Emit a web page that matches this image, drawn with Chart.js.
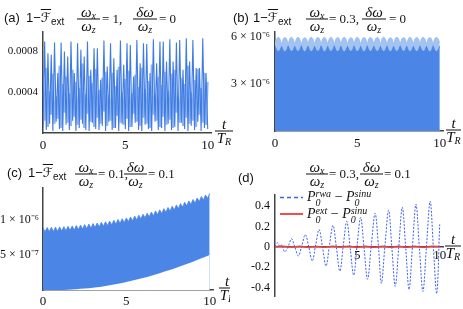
<!DOCTYPE html>
<html>
<head>
<meta charset="utf-8">
<title>Infidelity panels</title>
<script src="https://cdn.jsdelivr.net/npm/chart.js@4.4.1/dist/chart.umd.min.js"></script>
<style>
  html, body { margin: 0; background: #fff; }
  #fig { position: relative; width: 463px; height: 309px; overflow: hidden; color: #111; font-family: "Liberation Serif", serif; }
  canvas { position: absolute; }
  .lb { position: absolute; white-space: nowrap; font-size: 13px; line-height: 14px; transform: translateY(-50%); }
  .sans { font-family: "Liberation Sans", "DejaVu Sans", sans-serif; }
  .ov { text-decoration: overline; font-family: "DejaVu Sans", sans-serif; }
  .lb sub { font-size: 10px; vertical-align: -3px; line-height: 0; }
  .fr { position: absolute; display: flex; flex-direction: column; text-align: center; font-size: 15px; line-height: 11px; transform: translateY(-50%); white-space: nowrap; }
  .fr > span:first-child { border-bottom: 1px solid #111; padding-bottom: 1px; }
  .fr > span:last-child { padding-top: 1px; }
  .fr sub { font-size: 10px; font-style: italic; vertical-align: -2px; line-height: 0; }
  .lg { position: absolute; white-space: nowrap; font-size: 14px; line-height: 14px; transform: translateY(-50%); }
  .st { display: inline-flex; flex-direction: column; vertical-align: middle; font-size: 10px; line-height: 9px; font-style: italic; }
  svg.key { position: absolute; }
</style>
</head>
<body>
<div id="fig">
  <canvas id="cA" width="231" height="155" style="left:0;top:0"></canvas>
  <canvas id="cB" width="243" height="155" style="left:220px;top:0"></canvas>
  <canvas id="cC" width="231" height="154" style="left:0;top:155px"></canvas>
  <canvas id="cD" width="243" height="154" style="left:220px;top:155px"></canvas>

  <!-- (a) -->
  <div class="lb sans" style="left:4px;top:18px">(a)</div>
  <div class="lb sans" style="left:26px;top:18px">1−<span class="ov">ℱ</span><sub>ext</sub></div>
  <div class="fr" style="left:77px;top:19px;width:23px"><span><i>ω</i><sub>x</sub></span><span><i>ω</i><sub>z</sub></span></div>
  <div class="lb" style="left:102px;top:19px">= 1,</div>
  <div class="fr" style="left:133px;top:19px;width:24px"><span><i>δω</i></span><span><i>ω</i><sub>z</sub></span></div>
  <div class="lb" style="left:159px;top:19px">= 0</div>
  <div class="fr" style="left:215px;top:131px;width:18px"><span><i>t</i></span><span><i>T</i><sub>R</sub></span></div>

  <!-- (b) -->
  <div class="lb sans" style="left:233px;top:18px">(b)</div>
  <div class="lb sans" style="left:253px;top:18px">1−<span class="ov">ℱ</span><sub>ext</sub></div>
  <div class="fr" style="left:306px;top:19px;width:22px"><span><i>ω</i><sub>x</sub></span><span><i>ω</i><sub>z</sub></span></div>
  <div class="lb" style="left:329px;top:19px">= 0.3,</div>
  <div class="fr" style="left:362px;top:19px;width:24px"><span><i>δω</i></span><span><i>ω</i><sub>z</sub></span></div>
  <div class="lb" style="left:389px;top:19px">= 0</div>
  <div class="fr" style="left:446px;top:130px;width:15px"><span><i>t</i></span><span><i>T</i><sub>R</sub></span></div>

  <!-- (c) -->
  <div class="lb sans" style="left:7px;top:173px">(c)</div>
  <div class="lb sans" style="left:28px;top:173px">1−<span class="ov">ℱ</span><sub>ext</sub></div>
  <div class="fr" style="left:75px;top:174px;width:22px"><span><i>ω</i><sub>x</sub></span><span><i>ω</i><sub>z</sub></span></div>
  <div class="lb" style="left:98px;top:174px">= 0.1,</div>
  <div class="fr" style="left:124px;top:174px;width:23px"><span><i>δω</i></span><span><i>ω</i><sub>z</sub></span></div>
  <div class="lb" style="left:148px;top:174px">= 0.1</div>
  <div style="position:absolute;left:0;top:0;width:230px;height:309px;overflow:hidden">
    <div class="fr" style="left:219px;top:288px;width:16px"><span><i>t</i></span><span><i>T</i><sub>R</sub></span></div>
  </div>

  <!-- (d) -->
  <div class="lb sans" style="left:238px;top:178px">(d)</div>
  <div class="fr" style="left:306px;top:174px;width:22px"><span><i>ω</i><sub>x</sub></span><span><i>ω</i><sub>z</sub></span></div>
  <div class="lb" style="left:329px;top:174px">= 0.3,</div>
  <div class="fr" style="left:360px;top:174px;width:23px"><span><i>δω</i></span><span><i>ω</i><sub>z</sub></span></div>
  <div class="lb" style="left:384px;top:174px">= 0.1</div>
  <div class="fr" style="left:445px;top:246px;width:16px"><span><i>t</i></span><span><i>T</i><sub>R</sub></span></div>

  <svg class="key" style="left:279px;top:193px" width="26" height="26">
    <line x1="1" y1="4.5" x2="24" y2="4.5" stroke="#3d5ff2" stroke-width="1.6" stroke-dasharray="4 3"/>
    <line x1="1" y1="21" x2="24" y2="21" stroke="#f03c3c" stroke-width="1.8"/>
  </svg>
  <div class="lg" style="left:307px;top:198px"><i>P</i><span class="st"><span>rwa</span><span>0</span></span> − <i>P</i><span class="st"><span>sinu</span><span>0</span></span></div>
  <div class="lg" style="left:307px;top:215px"><i>P</i><span class="st"><span>ext</span><span>0</span></span> − <i>P</i><span class="st"><span>sinu</span><span>0</span></span></div>
</div>

<script>
// ---- shared ticks ----
const xTicks = [0, 5, 10];
const xTicksD = [5, 10];

// ---- (a) omega_x/omega_z = 1, values in units of 1e-4, sampled every 0.1 ----
const troughsA = [0.6, 0.3, 0.9, 0.2, 1.1, 0.4, 0.2, 0.8, 0.3, 1.2,
                  0.2, 0.5, 0.9, 0.3, 0.2, 1.0, 0.4, 0.3, 0.7, 0.2,
                  1.1, 0.3, 0.5, 0.2, 0.9, 0.4, 0.2, 0.6, 1.0, 0.3,
                  0.2, 0.8, 0.4, 0.2, 1.1, 0.3, 0.5, 0.2, 0.9, 0.3,
                  0.6, 0.2, 1.0, 0.4, 0.2, 0.7, 0.3, 1.1, 0.2, 0.5, 0.4];
const peaksA = [8.96, 7.82, 7.66, 8.86, 5.87, 8.86, 7.98, 7.49, 8.96, 5.87,
                8.80, 8.15, 7.49, 8.96, 6.20, 8.31, 8.31, 5.22, 9.06, 6.52,
                8.80, 7.33, 6.20, 9.06, 6.68, 8.80, 8.63, 5.54, 9.12, 6.84,
                8.80, 8.73, 5.87, 9.19, 6.84, 8.96, 8.96, 7.00, 9.19, 7.00,
                8.86, 9.12, 6.20, 9.29, 7.00, 9.12, 6.36, 6.36, 9.29, 5.87];
const lightPeaksA = [5.2, 6.4, 4.1, 5.8, 3.6, 6.6, 4.8, 5.5, 3.9, 6.2,
                     5.0, 4.4, 6.8, 3.8, 5.6, 4.9, 6.3, 4.2, 5.4, 6.0,
                     3.7, 5.9, 4.6, 6.5, 4.0, 5.3, 6.1, 3.9, 5.7, 4.5,
                     6.4, 4.3, 5.1, 6.7, 3.8, 5.5, 4.7, 6.0, 4.1, 5.8,
                     6.2, 3.6, 5.4, 4.8, 6.6, 4.0, 5.2, 6.3, 4.4, 5.9, 5.0];
const lightTroughsA = [1.2, 0.6, 1.8, 0.9, 1.4, 0.5, 2.0, 1.0, 0.7, 1.6,
                       0.8, 1.3, 0.5, 1.9, 1.1, 0.6, 1.5, 0.9, 2.1, 0.7,
                       1.2, 0.5, 1.7, 1.0, 0.8, 1.4, 0.6, 1.9, 1.1, 0.7,
                       1.5, 0.9, 0.5, 1.8, 1.2, 0.6, 1.6, 0.8, 1.3, 0.5,
                       2.0, 1.0, 0.7, 1.5, 0.9, 1.2, 0.6, 1.8, 1.0, 0.8];
const yTicksA = [4, 8];
const yLabelsA = ["0.0004", "0.0008"];

// ---- (b) omega_x/omega_z = 0.3, units of 1e-6, sampled every 0.1 ----
const upperB = [5.60, 5.86, 5.95, 5.85,  5.56, 5.85, 5.94, 5.86,  5.58, 5.87, 5.96, 5.84,
                5.55, 5.86, 5.95, 5.85,  5.57, 5.84, 5.93, 5.86,  5.59, 5.86, 5.96, 5.85,
                5.56, 5.85, 5.94, 5.87,  5.58, 5.86, 5.95, 5.84,  5.55, 5.87, 5.96, 5.85,
                5.57, 5.85, 5.94, 5.86,  5.59, 5.86, 5.95, 5.85,  5.56, 5.84, 5.93, 5.86,
                5.58, 5.87, 5.96, 5.85,  5.55, 5.85, 5.94, 5.86,  5.57, 5.86, 5.95, 5.84,
                5.59, 5.85, 5.94, 5.87,  5.56, 5.86, 5.96, 5.85,  5.58, 5.84, 5.93, 5.86,
                5.55, 5.87, 5.95, 5.85,  5.57, 5.85, 5.94, 5.86,  5.59, 5.86, 5.96, 5.85,
                5.56, 5.85, 5.94, 5.86,  5.58, 5.87, 5.95, 5.84,  5.55, 5.86, 5.94, 5.85,
                5.57, 5.85, 5.95, 5.86,  5.60];
const lowerB = [5.40, 5.13, 5.05, 5.12,  5.38, 5.12, 5.04, 5.13,  5.41, 5.14, 5.06, 5.12,
                5.39, 5.13, 5.05, 5.14,  5.42, 5.12, 5.04, 5.13,  5.40, 5.13, 5.05, 5.12,
                5.38, 5.14, 5.06, 5.13,  5.41, 5.12, 5.04, 5.12,  5.39, 5.13, 5.05, 5.14,
                5.42, 5.13, 5.05, 5.12,  5.40, 5.12, 5.04, 5.13,  5.38, 5.14, 5.06, 5.12,
                5.41, 5.13, 5.05, 5.13,  5.39, 5.12, 5.04, 5.12,  5.42, 5.13, 5.05, 5.14,
                5.40, 5.14, 5.06, 5.12,  5.38, 5.13, 5.05, 5.13,  5.41, 5.12, 5.04, 5.12,
                5.39, 5.13, 5.05, 5.14,  5.42, 5.14, 5.06, 5.12,  5.40, 5.12, 5.04, 5.13,
                5.38, 5.13, 5.05, 5.12,  5.41, 5.14, 5.06, 5.13,  5.39, 5.12, 5.04, 5.12,
                5.42, 5.13, 5.05, 5.13,  5.40];
const yTicksB = [3, 6];
const yLabelsB = ["3 × 10⁻⁶", "6 × 10⁻⁶"];

// ---- (c) omega_x/omega_z = 0.1, d omega = 0.1, units of 1e-7 ----
// teeth tips every 0.25, notches half way between
const tipsC = [8.90, 8.92, 8.95, 8.98, 9.01, 9.05, 9.10, 9.15, 9.21, 9.27,
               9.34, 9.41, 9.49, 9.57, 9.66, 9.75, 9.85, 9.96, 10.07, 10.18,
               10.30, 10.43, 10.56, 10.69, 10.83, 10.98, 11.13, 11.29, 11.45, 11.62,
               11.79, 11.97, 12.15, 12.34, 12.53, 12.73, 12.93, 13.14, 13.36, 13.58, 13.80];
const notchC = [8.31, 8.34, 8.37, 8.40, 8.43, 8.48, 8.53, 8.58, 8.64, 8.71,
                8.78, 8.85, 8.93, 9.02, 9.11, 9.20, 9.31, 9.42, 9.53, 9.64,
                9.77, 9.90, 10.03, 10.16, 10.31, 10.46, 10.61, 10.77, 10.94, 11.11,
                11.28, 11.46, 11.65, 11.84, 12.03, 12.23, 12.44, 12.65, 12.87, 13.09];
// lower edge of the band, every 0.5
const lowerC = [0, 0, 0, 0.03, 0.10, 0.20, 0.32, 0.47, 0.67, 0.90, 1.15,
                1.42, 1.72, 2.05, 2.40, 2.78, 3.18, 3.60, 4.05, 4.52, 5.00];
const yTicksC = [5, 10];
const yLabelsC = ["5 × 10⁻⁷", "1 × 10⁻⁶"];

// ---- (d) population differences ----
const tD = [0, 0.16, 0.3, 0.42, 0.58, 0.8, 1.0, 1.2, 1.42, 1.63,
            1.84, 2.05, 2.26, 2.47, 2.68, 2.89, 3.1, 3.31, 3.52, 3.73,
            3.94, 4.15, 4.36, 4.57, 4.78, 4.99, 5.2, 5.41, 5.62, 5.85,
            6.08, 6.29, 6.46, 6.68, 6.9, 7.1, 7.3, 7.52, 7.73, 7.94,
            8.14, 8.35, 8.56, 8.77, 8.98, 9.2, 9.42, 9.62, 9.82, 10.0];
const rwaD = [0, 0.04, 0, 0.02, -0.05, 0, 0.08, 0, -0.09, 0.01,
              0.12, 0, -0.14, 0.02, 0.17, -0.01, -0.19, 0.02, 0.21, -0.01,
              -0.24, 0.02, 0.25, -0.02, -0.28, 0.02, 0.29, -0.02, -0.32, 0.02,
              0.33, -0.02, -0.36, 0.02, 0.36, -0.02, -0.39, 0.01, 0.39, -0.02,
              -0.42, 0.01, 0.42, -0.02, -0.44, 0.01, 0.45, -0.02, -0.46, 0.22];
// every 0.5
const extD = [0, 0.004, -0.003, 0.005, -0.004, 0.003, -0.005, 0.004, -0.003, 0.006,
              -0.004, 0.005, -0.006, 0.004, -0.005, 0.006, -0.004, 0.005, -0.006, 0.004, 0.003];
const yTicksD = [-0.4, -0.2, 0, 0.2, 0.4];
const yLabelsD = ["-0.4", "-0.2", "0", "0.2", "0.4"];

// ---- helpers ----
const serif = "'Liberation Serif', serif";
const axisColor = "#444";
const grid = (n, step) => Array.from({ length: n }, (_, i) => +(i * step).toFixed(3));
const pts = (xs, ys) => ys.map((y, i) => ({ x: xs[i], y: y }));
function zip(a, b) {
    const out = [];
    a.forEach((v, i) => { out.push(v); if (i < b.length) out.push(b[i]); });
    return out;
}

function panel(id, cfg) {
    const ctx = document.getElementById(id).getContext("2d");
    return new Chart(ctx, {
        type: "line",
        data: { datasets: cfg.datasets },
        options: {
            responsive: false,
            animation: false,
            events: [],
            devicePixelRatio: 1,
            layout: { padding: cfg.pad },
            plugins: { legend: { display: false }, tooltip: { enabled: false } },
            elements: { point: { radius: 0 } },
            scales: {
                x: {
                    type: "linear", min: 0, max: 10.2,
                    position: cfg.xPos || "bottom",
                    z: cfg.z || 0,
                    grid: { display: false, drawTicks: false },
                    border: { color: axisColor, width: 1.5 },
                    ticks: { color: "#111", font: { family: serif, size: 13 }, padding: cfg.xPad,
                             maxRotation: 0, autoSkip: false, callback: v => String(v) },
                    afterBuildTicks: s => { s.ticks = cfg.xTicks.map(v => ({ value: v })); },
                    afterFit: s => { s.height = cfg.xH || 0; }
                },
                y: {
                    type: "linear", min: cfg.yMin, max: cfg.yMax,
                    z: cfg.z || 0,
                    grid: { display: false, drawTicks: false },
                    border: { color: axisColor, width: 1.5 },
                    ticks: { color: "#111", font: { family: serif, size: cfg.yFont }, padding: cfg.yPad,
                             callback: (v, i) => cfg.yLabels[i] },
                    afterBuildTicks: s => { s.ticks = cfg.yTicks.map(v => ({ value: v })); },
                    afterFit: s => { s.width = cfg.yW; }
                }
            }
        }
    });
}

// (a)
const tA = grid(101, 0.1);
panel("cA", {
    pad: { top: 32, right: 20, left: 0, bottom: 0 }, xH: 22, yW: 43, z: 1,
    yMin: 0, yMax: 9.9, yTicks: yTicksA, yLabels: yLabelsA, yFont: 11, yPad: 5, xPad: 5, xTicks: xTicks,
    datasets: [
        { data: pts(tA, zip(troughsA, peaksA)), borderColor: "#3f7be2", borderWidth: 1.1, tension: 0 },
        { data: pts(tA, zip(lightPeaksA, lightTroughsA)), borderColor: "rgba(135,176,240,0.95)", borderWidth: 2, tension: 0 }
    ]
});

// (b)
const tB = grid(101, 0.1);
panel("cB", {
    pad: { top: 32, right: 20, left: 0, bottom: 0 }, xH: 24, yW: 55, z: 1,
    yMin: 0, yMax: 6.29, yTicks: yTicksB, yLabels: yLabelsB, yFont: 12, yPad: 5, xPad: 5, xTicks: xTicks,
    datasets: [
        { data: pts(tB, lowerB), fill: "origin", backgroundColor: "#4b86e6", borderColor: "#4b86e6", borderWidth: 0.8, tension: 0 },
        { data: pts(tB, upperB), fill: "origin", backgroundColor: "#a3c3f1", borderColor: "#93b8ef", borderWidth: 0.8, tension: 0.35 }
    ]
});

// (c)
panel("cC", {
    pad: { top: 33, right: 18, left: 0, bottom: 0 }, xH: 19, yW: 43, z: 1,
    yMin: 0, yMax: 14.57, yTicks: yTicksC, yLabels: yLabelsC, yFont: 12, yPad: 4, xPad: 4, xTicks: xTicks,
    datasets: [
        { data: pts(grid(21, 0.5), lowerC), fill: "origin", backgroundColor: "#ffffff", borderColor: "rgba(0,0,0,0)",
          borderWidth: 0, cubicInterpolationMode: "monotone" },
        { data: pts(grid(81, 0.125), zip(tipsC, notchC)), fill: "origin", backgroundColor: "#4b86e6",
          borderColor: "#4b86e6", borderWidth: 0.8, tension: 0 }
    ]
});

// (d)
panel("cD", {
    pad: { top: 40, right: 20, left: 0, bottom: 6 }, xPos: { y: 0 }, yW: 55,
    yMin: -0.493, yMax: 0.51, yTicks: yTicksD, yLabels: yLabelsD, yFont: 12, yPad: 5, xPad: 1, xTicks: xTicksD,
    datasets: [
        { data: pts(grid(21, 0.5), extD), borderColor: "#f03c3c", borderWidth: 1.5, tension: 0.3 },
        { data: pts(tD, rwaD), borderColor: "#3d5ff2", borderWidth: 1, borderDash: [2, 1.5], tension: 0.35 }
    ]
});
</script>
</body>
</html>
